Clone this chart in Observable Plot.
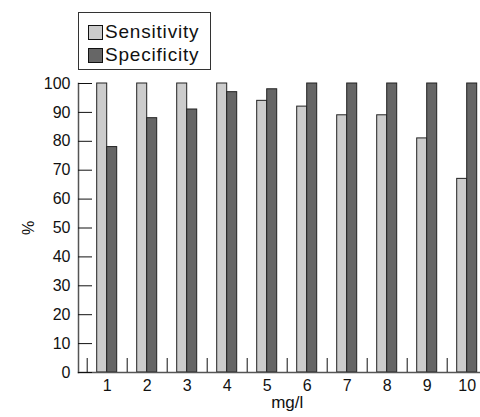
<!DOCTYPE html>
<html>
<head>
<meta charset="utf-8">
<script src="https://cdn.jsdelivr.net/npm/d3@7"></script>
<script src="https://cdn.jsdelivr.net/npm/@observablehq/plot@0.6"></script>
<style>
  html, body { margin: 0; padding: 0; background: #fff; }
  #wrap { position: relative; width: 480px; height: 417px; font-family: "Liberation Sans", Arial, sans-serif; }
  #legend { position: absolute; left: 78px; top: 12px; width: 131px; height: 56px; border: 1px solid #333; background: #fff; box-sizing: content-box; }
  .item { position: absolute; left: 9px; display: flex; align-items: center; font-size: 19px; color: #111; letter-spacing: 0.8px; line-height: 20px; }
  .sw { width: 13px; height: 13px; border: 1px solid #111; margin-right: 2px; }
</style>
</head>
<body>
<div id="wrap">
  <div id="chart"></div>
  <div id="legend"></div>
</div>
<script>
const categories = [1, 2, 3, 4, 5, 6, 7, 8, 9, 10];
const seriesNames = ["Sensitivity", "Specificity"];
const sensitivity = [100, 100, 100, 100, 94, 92, 89, 89, 81, 67];
const specificity = [78, 88, 91, 97, 98, 100, 100, 100, 100, 100];
const seriesColors = ["#cccccc", "#666666"];
const yTicks = [0, 10, 20, 30, 40, 50, 60, 70, 80, 90, 100];
const xLabel = "mg/l";
const yLabel = "%";

const rows = [];
categories.forEach((c, i) => {
  rows.push({cat: c, series: seriesNames[0], value: sensitivity[i], x1: c - 0.25, x2: c});
  rows.push({cat: c, series: seriesNames[1], value: specificity[i], x1: c, x2: c + 0.25});
});
const minorTicks = categories.map(c => c - 0.5);
const xMid = (d3.min(categories) + d3.max(categories)) / 2;

const chart = Plot.plot({
  width: 480,
  height: 417,
  marginTop: 83,
  marginBottom: 45,
  marginLeft: 78,
  marginRight: 0,
  style: {fontFamily: "'Liberation Sans', Arial, sans-serif", color: "#111", background: "#fff"},
  x: {type: "linear", domain: [0.5, 10.5], range: [86.7, 486.7]},
  y: {domain: [0, 100], range: [372, 83]},
  color: {domain: seriesNames, range: seriesColors},
  marks: [
    Plot.rectY(rows, {x1: "x1", x2: "x2", y1: 0, y2: "value", fill: "series", stroke: "#222", strokeWidth: 1}),
    Plot.frame({anchor: "left", stroke: "#555", strokeWidth: 1.5}),
    Plot.frame({anchor: "bottom", stroke: "#555", strokeWidth: 1.5}),
    Plot.axisY({ticks: yTicks, tickSize: -14, fill: "none", label: null}),
    Plot.axisY({ticks: yTicks, tickSize: 0, tickPadding: 8, label: yLabel, labelAnchor: "center", labelOffset: 56, labelArrow: "none", fontSize: 16}),
    Plot.axisX({ticks: minorTicks, tickSize: -14, fill: "none", label: null}),
    Plot.axisX({ticks: categories, tickSize: 0, tickPadding: 7, tickFormat: d => String(d), label: null, fontSize: 16}),
    Plot.text([xLabel], {x: xMid, text: d => d, frameAnchor: "bottom", dy: 35, fontSize: 17, fill: "#111"})
  ]
});
chart.querySelectorAll('[aria-label="y-axis label"]').forEach(el => el.setAttribute("font-size", "16"));
document.getElementById("chart").appendChild(chart);

const legend = document.getElementById("legend");
seriesNames.forEach((name, i) => {
  const item = document.createElement("div");
  item.className = "item";
  item.style.top = (i === 0 ? 9 : 32) + "px";
  const sw = document.createElement("div");
  sw.className = "sw";
  sw.style.background = seriesColors[i];
  item.appendChild(sw);
  const t = document.createElement("span");
  t.textContent = name;
  item.appendChild(t);
  legend.appendChild(item);
});
</script>
</body>
</html>
